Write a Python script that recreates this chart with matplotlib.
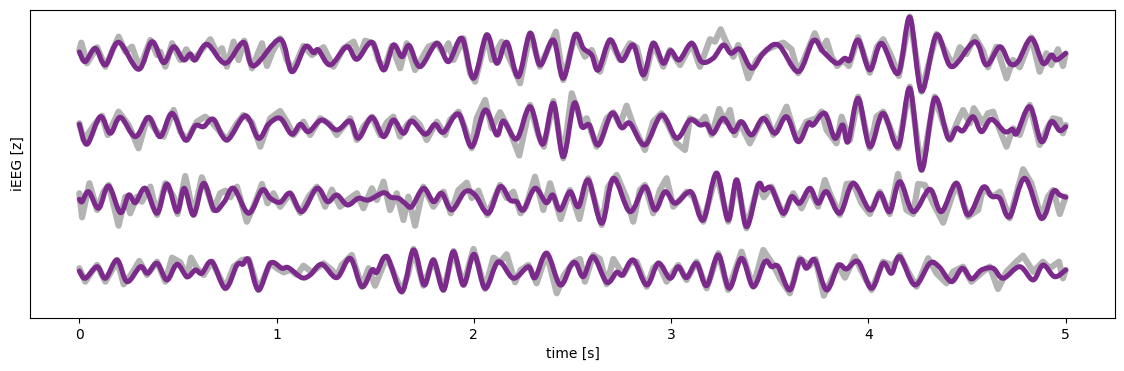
import matplotlib.pyplot as plt
from matplotlib.path import Path
from matplotlib.patches import PathPatch
import numpy as np

# filtered (purple) traces: time [s] and value [z], one list per channel
filt_t1 = [0.000, 0.030, 0.081, 0.132, 0.199, 0.300, 0.368, 0.427, 0.478, 0.528, 0.562, 0.588, 0.647, 0.740, 0.832, 0.883,
           1.018, 1.077, 1.145, 1.187, 1.212, 1.272, 1.356, 1.407, 1.483, 1.542, 1.592, 1.635, 1.672, 1.727, 1.812, 1.871,
           1.939, 1.998, 2.065, 2.116, 2.167, 2.225, 2.285, 2.335, 2.403, 2.453, 2.513, 2.555, 2.597, 2.631, 2.690, 2.749,
           2.808, 2.859, 2.909, 2.960, 2.997, 3.041, 3.104, 3.154, 3.213, 3.264, 3.303, 3.349, 3.408, 3.467, 3.543, 3.644,
           3.720, 3.771, 3.838, 3.880, 3.906, 3.948, 4.007, 4.066, 4.151, 4.210, 4.269, 4.345, 4.421, 4.539, 4.598, 4.666,
           4.716, 4.758, 4.826, 4.885, 4.927, 4.953, 5.000]
filt_v1 = [0.00, -0.97, 0.37, -1.30, 0.97, -1.73, 1.03, -1.07, 0.53, -0.80, -0.20, -0.80, 0.77, -1.13, 0.97, -1.40,
           1.27, -1.97, 0.53, -0.07, 0.20, -1.30, 0.53, -0.73, 0.97, -1.80, 0.70, -0.47, 0.65, -1.47, 0.87, -0.97,
           1.37, -2.63, 1.70, -1.13, 0.97, -2.47, 1.87, -1.30, 1.20, -2.63, 1.70, 0.37, -0.30, -1.80, 1.20, -0.87,
           0.70, -2.30, 0.87, -1.13, 0.13, -0.80, 0.87, -0.97, -0.63, 0.70, -0.13, 0.27, -1.63, -0.13, 0.70, -1.97,
           1.13, 0.03, -1.13, -0.63, -0.80, 1.20, -1.80, 0.87, -2.13, 3.47, -3.90, 1.70, -1.47, 1.03, -1.30, 0.53,
           -1.13, -0.97, 1.37, -1.13, -0.30, -0.80, -0.13]

filt_t2 = [0.000, 0.039, 0.106, 0.157, 0.208, 0.284, 0.351, 0.410, 0.470, 0.537, 0.588, 0.630, 0.680, 0.748, 0.841, 0.908,
           0.959, 1.018, 1.077, 1.120, 1.162, 1.229, 1.305, 1.373, 1.415, 1.483, 1.542, 1.592, 1.643, 1.685, 1.753, 1.803,
           1.846, 1.922, 1.989, 2.057, 2.116, 2.150, 2.217, 2.285, 2.349, 2.403, 2.453, 2.508, 2.547, 2.585, 2.631, 2.699,
           2.749, 2.791, 2.867, 2.952, 3.028, 3.095, 3.146, 3.180, 3.213, 3.264, 3.315, 3.357, 3.408, 3.467, 3.526, 3.585,
           3.644, 3.695, 3.720, 3.779, 3.830, 3.869, 3.897, 3.948, 4.007, 4.074, 4.151, 4.210, 4.269, 4.336, 4.404, 4.446,
           4.480, 4.530, 4.573, 4.623, 4.691, 4.730, 4.753, 4.818, 4.877, 4.927, 4.970, 5.000]
filt_v2 = [0.12, -1.88, 0.88, -0.78, 0.82, -1.12, 0.82, -1.12, 1.22, -1.45, -0.02, -0.12, 0.62, -1.45, 0.98, -1.28,
           0.12, 0.72, -0.88, 0.12, -0.62, 0.55, -0.45, 0.45, -1.28, 0.82, -1.12, 0.55, -0.78, 0.45, -0.88, 0.12,
           -0.68, 1.15, -2.12, 1.55, -0.95, 0.45, -1.35, 1.88, -1.88, 2.22, -3.12, 2.22, -0.12, 0.05, -1.95, 1.22,
           -0.22, 0.22, -1.95, 1.05, -1.28, 0.55, 0.05, 0.12, -0.78, 0.72, -0.62, 0.38, -0.95, 0.72, -0.78, 0.88,
           -1.62, 0.22, 0.05, 1.22, -1.28, 0.05, -1.62, 2.72, -2.12, 1.22, -2.12, 3.72, -4.45, 2.72, -1.28, -0.28,
           -0.52, 0.88, -0.62, 0.62, -0.62, -0.38, -0.78, 1.88, -1.62, 0.38, -0.52, -0.12]

filt_t3 = [0.000, 0.014, 0.047, 0.098, 0.148, 0.208, 0.250, 0.284, 0.334, 0.394, 0.444, 0.495, 0.532, 0.579, 0.630, 0.684,
           0.735, 0.782, 0.858, 0.926, 0.968, 1.018, 1.069, 1.128, 1.204, 1.258, 1.305, 1.359, 1.415, 1.466, 1.542, 1.579,
           1.618, 1.651, 1.685, 1.744, 1.795, 1.837, 1.888, 1.955, 2.006, 2.073, 2.133, 2.183, 2.217, 2.251, 2.310, 2.366,
           2.400, 2.437, 2.487, 2.530, 2.580, 2.648, 2.707, 2.791, 2.867, 2.918, 2.969, 3.019, 3.078, 3.109, 3.163, 3.230,
           3.289, 3.332, 3.382, 3.441, 3.470, 3.509, 3.568, 3.610, 3.652, 3.703, 3.745, 3.788, 3.855, 3.923, 4.007, 4.058,
           4.108, 4.159, 4.227, 4.311, 4.370, 4.446, 4.505, 4.581, 4.623, 4.666, 4.716, 4.792, 4.877, 4.936, 4.970, 5.000]
filt_v3 = [-0.03, -0.27, 0.73, -0.93, 1.30, -1.37, 0.40, -0.37, 1.07, -1.43, 1.50, -1.27, 1.07, -1.60, 1.57, -1.10,
           -0.27, 1.07, -1.43, 0.90, 0.07, -0.33, 0.57, -1.27, 1.07, -0.27, 0.40, -0.60, 0.07, -0.10, 0.63, 0.17,
           0.07, -0.43, -0.77, 1.07, -0.27, 0.57, -1.10, 0.73, 0.40, -1.43, 1.23, -0.10, -0.27, -1.10, 1.07, -0.37,
           0.40, -1.10, 0.73, -0.77, 1.90, -2.43, 2.07, -1.27, 1.23, -1.10, 0.73, -0.43, 0.57, 0.50, -2.10, 2.57,
           -2.10, 1.90, -2.77, 1.40, 0.90, 1.07, -1.43, 0.23, -0.43, 1.07, -0.43, 0.73, -1.43, 1.57, -1.10, 0.57,
           -1.27, 1.73, -1.27, 0.97, -1.27, 1.57, -1.60, 1.17, 0.30, 0.07, -1.77, 2.07, -1.93, 0.73, 0.40, 0.17]

filt_t4 = [0.000, 0.030, 0.090, 0.132, 0.191, 0.242, 0.309, 0.346, 0.394, 0.444, 0.495, 0.546, 0.588, 0.621, 0.672, 0.740,
           0.799, 0.829, 0.858, 0.908, 0.968, 1.027, 1.060, 1.128, 1.170, 1.229, 1.305, 1.373, 1.432, 1.483, 1.508, 1.559,
           1.635, 1.694, 1.748, 1.795, 1.846, 1.896, 1.947, 2.001, 2.057, 2.124, 2.200, 2.276, 2.310, 2.369, 2.437, 2.491,
           2.518, 2.555, 2.605, 2.673, 2.724, 2.754, 2.808, 2.876, 2.935, 2.994, 3.036, 3.078, 3.129, 3.180, 3.239, 3.294,
           3.357, 3.416, 3.475, 3.509, 3.543, 3.602, 3.652, 3.686, 3.728, 3.788, 3.847, 3.889, 3.948, 4.016, 4.074, 4.117,
           4.159, 4.235, 4.311, 4.358, 4.421, 4.476, 4.522, 4.573, 4.632, 4.683, 4.767, 4.835, 4.885, 4.944, 5.000]
filt_v4 = [0.15, -0.58, 0.58, -0.58, 1.25, -0.92, 0.58, -0.08, 0.92, -0.75, 0.82, -0.42, 0.25, -0.08, 1.08, -1.58,
           0.75, 0.82, 1.25, -1.75, 0.92, 0.42, 0.48, -0.52, -0.25, 0.82, -0.52, 1.42, -1.42, 0.25, 0.02, 1.58,
           -1.92, 2.25, -1.25, 1.25, -1.75, 2.08, -1.25, 1.82, -1.58, 1.08, -0.58, 0.58, -0.52, 1.92, -1.25, 0.68,
           0.92, -0.42, 1.58, -0.98, 0.02, -0.25, 1.25, -1.25, 0.92, -0.58, 0.58, -0.52, 0.92, -1.32, 1.75, -1.58,
           1.42, -1.42, 1.08, 0.58, 0.58, -1.75, 1.25, 0.42, 1.25, -1.75, 0.68, 0.35, 1.08, -1.58, 0.92, -0.08,
           1.58, -1.25, 0.92, 0.58, -0.92, 0.42, -0.65, 0.25, 0.42, -0.58, 0.58, -0.75, 0.75, -0.42, 0.25]

# raw (grey) traces
raw_t1 = [0.000, 0.010, 0.039, 0.090, 0.132, 0.199, 0.233, 0.267, 0.306, 0.360, 0.394, 0.410, 0.436, 0.470, 0.512, 0.542,
          0.571, 0.596, 0.664, 0.698, 0.723, 0.748, 0.782, 0.807, 0.836, 0.875, 0.926, 0.951, 0.979, 1.018, 1.052, 1.082,
          1.136, 1.179, 1.238, 1.288, 1.339, 1.390, 1.420, 1.449, 1.491, 1.516, 1.545, 1.584, 1.626, 1.660, 1.702, 1.770,
          1.812, 1.845, 1.871, 1.897, 1.947, 1.981, 2.006, 2.065, 2.091, 2.141, 2.184, 2.234, 2.285, 2.335, 2.416, 2.453,
          2.513, 2.563, 2.597, 2.639, 2.690, 2.740, 2.791, 2.825, 2.867, 2.909, 2.960, 2.994, 3.045, 3.104, 3.146, 3.197,
          3.222, 3.251, 3.278, 3.315, 3.340, 3.391, 3.433, 3.484, 3.518, 3.568, 3.610, 3.644, 3.728, 3.762, 3.788, 3.813,
          3.842, 3.872, 3.901, 3.948, 4.007, 4.044, 4.075, 4.117, 4.154, 4.210, 4.269, 4.345, 4.396, 4.429, 4.463, 4.497,
          4.539, 4.581, 4.606, 4.649, 4.700, 4.733, 4.767, 4.826, 4.868, 4.902, 4.927, 4.961, 4.986, 5.000]
raw_v1 = [0.20, 0.93, -1.13, 0.47, -1.47, 1.53, 0.03, 0.53, -1.63, 1.20, -0.30, 0.03, -1.47, 0.87, -0.80, 0.27,
          -0.63, -0.40, 1.27, -0.13, 0.37, -1.47, 1.03, -0.80, 1.13, -1.63, 0.87, -1.40, 0.03, 1.37, -0.80, -1.87,
          0.60, -0.30, 0.47, -1.47, 0.37, 1.03, -0.47, 1.13, 0.87, -0.80, -1.73, 0.60, -1.63, 0.87, -1.80, 0.53,
          0.87, -0.13, 0.87, -0.80, 1.37, -2.13, -2.97, 1.70, -0.80, 1.03, -0.80, -3.13, 1.87, -1.47, 2.03, -2.80,
          1.70, -0.47, 0.20, -1.97, 1.20, -0.80, 0.87, 0.47, -2.63, 0.87, -1.47, 0.20, -1.30, 0.87, -1.47, 1.27,
          1.03, 2.27, 1.03, -0.47, 0.70, -2.63, -0.80, 0.20, 0.53, 0.93, 0.27, -2.13, 1.87, 0.20, 1.13, -0.47,
          -1.40, -0.80, -1.40, 1.47, -2.07, 0.53, 1.27, -0.47, -2.40, 3.53, -3.97, 1.80, -0.13, -1.40, 0.47, -0.20,
          1.53, 0.13, -1.53, 0.53, -2.63, -0.80, -1.53, 1.47, -1.97, -0.13, -1.30, 0.27, -1.40, -0.17]

raw_t2 = [0.000, 0.022, 0.081, 0.115, 0.144, 0.199, 0.250, 0.300, 0.343, 0.394, 0.427, 0.478, 0.512, 0.545, 0.596, 0.638,
          0.672, 0.748, 0.799, 0.832, 0.875, 0.917, 0.968, 1.018, 1.052, 1.086, 1.136, 1.170, 1.221, 1.271, 1.305, 1.373,
          1.407, 1.440, 1.483, 1.525, 1.559, 1.592, 1.626, 1.660, 1.694, 1.727, 1.761, 1.812, 1.854, 1.879, 1.922, 1.955,
          1.989, 2.014, 2.057, 2.091, 2.133, 2.184, 2.230, 2.285, 2.327, 2.355, 2.403, 2.453, 2.496, 2.546, 2.572, 2.622,
          2.673, 2.707, 2.740, 2.774, 2.808, 2.867, 2.909, 2.951, 2.985, 3.028, 3.070, 3.095, 3.146, 3.171, 3.205, 3.244,
          3.272, 3.298, 3.323, 3.348, 3.399, 3.450, 3.484, 3.518, 3.585, 3.636, 3.686, 3.737, 3.762, 3.788, 3.838, 3.864,
          3.906, 3.948, 4.007, 4.041, 4.075, 4.108, 4.151, 4.210, 4.269, 4.336, 4.379, 4.413, 4.455, 4.480, 4.514, 4.534,
          4.581, 4.606, 4.632, 4.666, 4.700, 4.733, 4.767, 4.818, 4.868, 4.910, 4.936, 4.970, 4.986, 5.000]
raw_v2 = [0.22, -1.45, 0.22, 0.98, -0.95, 1.38, 0.05, -2.28, 0.72, -0.62, -1.12, 1.55, -0.62, -1.45, 0.38, 0.88,
          0.32, -1.45, 0.22, 1.05, 0.32, -2.12, 0.72, 1.45, 0.38, -0.95, 0.38, -0.95, 0.72, 0.12, -0.95, 0.72,
          -1.45, -0.12, 0.88, -0.95, 0.32, 0.88, -1.12, 0.05, 0.72, 0.05, -1.45, 0.38, -0.95, 0.55, 1.38, -0.28,
          -2.28, 0.72, 2.55, -0.28, 1.32, -0.62, -3.00, 2.05, -0.95, -2.12, 2.45, -3.28, 3.22, 0.32, 0.72, -2.12,
          0.72, 1.32, 0.05, 1.98, 0.05, -2.45, 0.38, 1.22, 0.05, -1.78, -2.45, 0.72, 0.22, 0.88, -0.95, 1.65,
          0.38, 1.55, -0.95, 0.32, -1.78, 0.22, 0.88, -0.95, 1.88, -1.45, 0.38, 0.72, 1.38, -0.45, -1.78, 0.88,
          -1.45, 2.88, -2.28, 0.88, 1.38, -0.12, -2.28, 3.88, -4.45, 2.88, 0.22, -1.45, 0.55, 1.55, 0.22, 1.72,
          0.22, 1.22, 1.38, -0.45, -2.12, -0.28, -0.95, 2.05, -1.95, -0.12, 0.72, 0.55, -0.78, 0.05]

raw_t3 = [0.000, 0.014, 0.051, 0.090, 0.123, 0.149, 0.199, 0.233, 0.258, 0.292, 0.317, 0.360, 0.394, 0.436, 0.478, 0.498,
          0.537, 0.579, 0.621, 0.647, 0.680, 0.714, 0.740, 0.765, 0.799, 0.849, 0.883, 0.926, 0.954, 0.984, 1.018, 1.069,
          1.120, 1.162, 1.204, 1.246, 1.280, 1.322, 1.364, 1.407, 1.440, 1.483, 1.508, 1.542, 1.575, 1.609, 1.643, 1.668,
          1.702, 1.744, 1.795, 1.846, 1.883, 1.922, 1.964, 1.989, 2.023, 2.068, 2.133, 2.166, 2.200, 2.237, 2.264, 2.310,
          2.352, 2.386, 2.440, 2.487, 2.535, 2.580, 2.648, 2.681, 2.724, 2.774, 2.808, 2.842, 2.867, 2.909, 2.943, 2.977,
          3.011, 3.053, 3.078, 3.112, 3.163, 3.230, 3.289, 3.332, 3.382, 3.441, 3.470, 3.509, 3.538, 3.568, 3.619, 3.661,
          3.703, 3.745, 3.779, 3.804, 3.855, 3.889, 3.923, 3.965, 4.007, 4.058, 4.108, 4.150, 4.193, 4.227, 4.252, 4.286,
          4.328, 4.379, 4.446, 4.505, 4.556, 4.581, 4.632, 4.666, 4.716, 4.784, 4.826, 4.877, 4.910, 4.936, 4.970, 5.000]
raw_v3 = [0.57, -1.83, 1.57, -1.10, 0.73, 1.40, -2.67, 0.23, -1.43, 0.23, -0.27, 1.23, -1.60, 1.57, 0.23, -1.50,
          2.30, -1.60, 2.17, 0.90, -1.10, 0.57, 0.83, 0.17, 1.23, -2.27, -0.77, 1.50, -0.43, 0.57, -0.77, 0.57,
          -1.40, 0.23, 1.23, -0.77, 0.93, -0.77, -0.03, 0.57, -0.93, 1.07, -0.10, 1.73, -1.10, 0.57, -2.10, 0.23,
          -2.67, 1.23, -0.77, 0.73, -1.43, 0.90, 1.63, 0.10, 0.83, -1.60, 1.40, 0.10, 0.73, -1.43, -0.77, 2.23,
          -1.10, 1.57, -2.00, 0.90, -2.00, 2.07, -2.60, 1.23, 2.40, 0.10, -2.27, 0.90, 1.40, -1.43, 0.90, 2.07,
          -0.77, 0.10, 0.73, 0.23, -2.27, 2.57, -2.27, 1.90, -2.93, 1.40, 0.17, 1.23, -0.17, -1.60, 0.57, -0.93,
          0.90, -0.77, 1.90, 0.57, -1.60, 1.50, 1.57, -0.43, -1.50, 0.73, -1.50, 2.50, -1.10, -1.50, 1.50, 1.40,
          -0.43, -2.37, 1.57, -1.77, -1.10, 1.07, 0.23, 0.73, -1.93, 2.97, 1.57, -1.93, 0.23, 0.90, -1.50, 0.23]

raw_t4 = [0.000, 0.030, 0.064, 0.090, 0.132, 0.171, 0.191, 0.225, 0.267, 0.304, 0.343, 0.394, 0.436, 0.470, 0.512, 0.545,
          0.566, 0.596, 0.630, 0.672, 0.740, 0.782, 0.824, 0.858, 0.908, 0.968, 1.001, 1.035, 1.069, 1.103, 1.136, 1.179,
          1.238, 1.280, 1.305, 1.330, 1.381, 1.432, 1.466, 1.499, 1.559, 1.635, 1.668, 1.694, 1.744, 1.795, 1.846, 1.897,
          1.947, 1.998, 2.057, 2.099, 2.133, 2.166, 2.209, 2.237, 2.276, 2.318, 2.369, 2.420, 2.457, 2.504, 2.538, 2.563,
          2.605, 2.639, 2.673, 2.707, 2.757, 2.791, 2.825, 2.876, 2.909, 2.935, 2.977, 3.011, 3.036, 3.078, 3.129, 3.180,
          3.239, 3.289, 3.357, 3.416, 3.467, 3.518, 3.551, 3.602, 3.652, 3.703, 3.732, 3.774, 3.847, 3.881, 3.931, 3.973,
          4.016, 4.074, 4.125, 4.159, 4.210, 4.244, 4.303, 4.345, 4.396, 4.429, 4.480, 4.522, 4.581, 4.615, 4.657, 4.700,
          4.750, 4.784, 4.835, 4.885, 4.919, 4.966, 4.986, 5.000]
raw_v4 = [0.42, -0.92, 0.08, 0.75, -0.92, 0.42, 1.25, -1.18, -0.08, 1.15, -0.25, 1.08, -0.92, 1.48, 1.02, -0.42,
          1.48, 0.42, -0.25, 1.08, -1.58, 0.58, 1.25, 1.35, -1.75, 0.92, 0.42, 0.02, 0.25, -0.25, 0.68, 0.02,
          0.92, 0.25, -0.42, 0.75, 1.75, -1.42, 0.42, -1.32, 1.58, -1.92, -0.08, 2.35, -1.32, 1.25, -1.75, 2.15,
          -1.25, 2.35, -1.65, 1.48, 1.02, 1.82, -0.98, 0.25, 0.75, -1.08, 1.92, -2.08, -0.25, 1.02, 1.35, -0.92,
          1.75, 1.35, -1.18, 1.35, -0.25, 0.92, 1.08, -1.42, 0.42, 0.92, -0.92, 0.08, 0.75, -0.75, 1.08, -1.58,
          1.92, -1.75, 2.08, -1.42, 2.25, 0.75, -0.58, -2.08, 1.42, 0.68, 1.35, -2.32, 0.75, -0.52, 1.58, -0.18,
          -1.75, 1.08, 0.68, 1.75, -0.25, -1.42, 1.42, -0.08, -1.08, 0.08, 0.58, -0.92, 0.08, 0.58, -1.65, 0.08,
          1.08, 1.68, 0.08, 1.08, 0.42, 1.08, -0.58, 0.25]

filt_t = [filt_t1, filt_t2, filt_t3, filt_t4]
filt_v = [filt_v1, filt_v2, filt_v3, filt_v4]
raw_t = [raw_t1, raw_t2, raw_t3, raw_t4]
raw_v = [raw_v1, raw_v2, raw_v3, raw_v4]

spacing = 7.35  # vertical distance between channels


def smooth_path(t, v):
    '''Bezier path (Catmull-Rom style handles) through the given points,
    so the filtered trace is drawn as a curve instead of a zigzag.'''
    p = np.column_stack([t, v])
    ext = np.vstack([p[0], p, p[-1]])
    verts = [p[0]]
    codes = [Path.MOVETO]
    for i in range(len(p) - 1):
        a, b, c, d = ext[i], ext[i + 1], ext[i + 2], ext[i + 3]
        verts += [b + (c - a) / 6., c - (d - b) / 6., c]
        codes += [Path.CURVE4] * 3
    return Path(verts, codes)


def plot_channels(ax):
    for i in range(4):
        offset = -i * spacing
        # raw signal: plain polyline, it is noisy anyway
        ax.plot(raw_t[i], np.array(raw_v[i]) + offset, color='#b3b3b3', lw=4.5,
                solid_joinstyle='round', solid_capstyle='round', zorder=2)
        filt = smooth_path(filt_t[i], np.array(filt_v[i]) + offset)
        ax.add_patch(PathPatch(filt, fill=False, edgecolor='#7b2a8c', lw=3.6,
                               joinstyle='round', capstyle='round', zorder=3))


fig = plt.figure(figsize=(11.24, 3.71), dpi=100)
ax = fig.add_axes([0.0267, 0.1429, 0.9653, 0.8302])
plot_channels(ax)
ax.set_xlim(-0.25, 5.25)
ax.set_ylim(-26.6, 4.2)
ax.set_yticks([])
ax.set_xlabel('time [s]')
ax.set_ylabel('iEEG [z]')
fig.savefig('out.png', dpi=100)
